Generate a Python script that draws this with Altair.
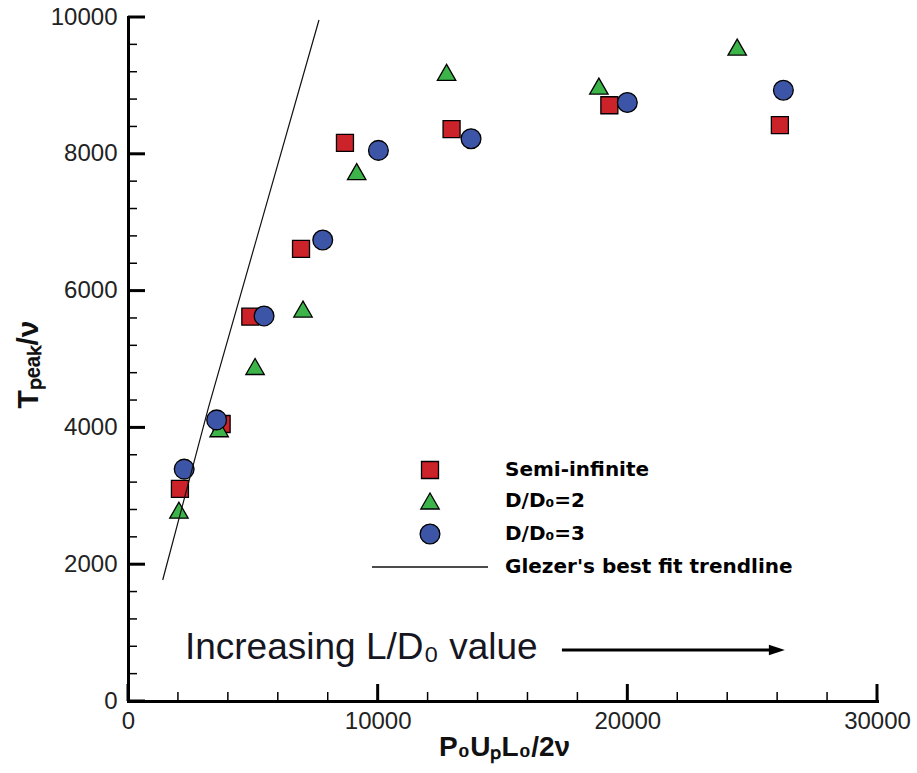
import altair as alt
import pandas as pd

# ---------------- data ----------------
series_names = ["Semi-infinite", "D/D\u2080=2", "D/D\u2080=3", "Glezer's best fit trendline"]
series_colors = ["#cc2229", "#3db449", "#3d55a6", "#000000"]
series_shapes = ["square", "triangle-up", "circle", "M0,0"]
series_sizes = [289, 441, 625, 289]

semi_x = [2080, 3750, 4900, 6930, 8690, 12960, 19280, 26110]
semi_y = [3100, 4050, 5620, 6610, 8160, 8360, 8710, 8420]

dd2_x = [2040, 3650, 5090, 7010, 9160, 12760, 18860, 24400]
dd2_y = [2790, 3980, 4890, 5730, 7740, 9190, 8990, 9560]

dd3_x = [2250, 3550, 5450, 7800, 10030, 13740, 20000, 26250]
dd3_y = [3390, 4110, 5630, 6740, 8050, 8220, 8750, 8930]

trend_x = [1390, 3230, 7649]
trend_y = [1769, 4300, 9956]

x_major = [0, 10000, 20000, 30000]
y_major = [0, 2000, 4000, 6000, 8000, 10000]
x_minor = [v for v in range(0, 30001, 2000) if v % 10000]
y_minor = [v for v in range(0, 10001, 400) if v % 2000]

annot_text = ["Increasing L/D\u2080 value"]
annot_x = [2280]
annot_y = [614]
arrow_y = [746]
arrow_x = [17380]
arrow_x2 = [26000]
arrow_tip_x = [25990]

# ---------------- layout / style ----------------
FONT = "Liberation Sans"
W, H = 749, 684
X_MAX, Y_MAX = 30000, 10000
px_x = X_MAX / W      # data units per pixel, x
px_y = Y_MAX / H      # data units per pixel, y

# legend placement (pixels inside the plot area)
LEG_SYM_X, LEG_LAB_X = 302, 377
LEG_ROWS_Y = [453, 484, 517, 550]
LEG_LINE_X = (244, 360)

# ---------------- tables ----------------
rows = []
for name, xs_, ys_ in [(series_names[0], semi_x, semi_y),
                        (series_names[1], dd2_x, dd2_y),
                        (series_names[2], dd3_x, dd3_y)]:
    for a, b in zip(xs_, ys_):
        rows.append({"x": a, "y": b, "series": name})
df_pts = pd.DataFrame(rows)
df_trend = pd.DataFrame({"x": trend_x, "y": trend_y})
df_annot = pd.DataFrame({"x": annot_x, "y": annot_y, "t": annot_text})
df_arrow = pd.DataFrame({"x": arrow_x, "x2": arrow_x2, "y": arrow_y})
df_head = pd.DataFrame({"x": arrow_tip_x, "y": arrow_y})

df_leg_sym = pd.DataFrame({
    "series": series_names[:3],
    "x": [LEG_SYM_X * px_x] * 3,
    "y": [(H - r) * px_y for r in LEG_ROWS_Y[:3]],
})
df_leg_lab = pd.DataFrame({
    "t": series_names,
    "x": [LEG_LAB_X * px_x] * 4,
    "y": [(H - r) * px_y for r in LEG_ROWS_Y],
})
df_legline = pd.DataFrame({"x": [LEG_LINE_X[0] * px_x], "x2": [LEG_LINE_X[1] * px_x],
                           "y": [(H - LEG_ROWS_Y[3]) * px_y]})

tick_rows = []
for v in x_major:
    tick_rows.append({"x": v, "x2": v, "y": 0, "y2": 17 * px_y, "w": 3})
for v in x_minor:
    tick_rows.append({"x": v, "x2": v, "y": 0, "y2": 9 * px_y, "w": 1.5})
for v in y_major:
    tick_rows.append({"x": 0, "x2": 17 * px_x, "y": v, "y2": v, "w": 3})
for v in y_minor:
    tick_rows.append({"x": 0, "x2": 9 * px_x, "y": v, "y2": v, "w": 1.5})
df_ticks = pd.DataFrame(tick_rows)

xscale = alt.Scale(domain=[0, X_MAX], nice=False, zero=False)
yscale = alt.Scale(domain=[0, Y_MAX], nice=False, zero=False)
color_scale = alt.Scale(domain=series_names, range=series_colors)
shape_scale = alt.Scale(domain=series_names, range=series_shapes)
size_scale = alt.Scale(domain=series_names, range=series_sizes)

main_x_axis = alt.Axis(
    orient="bottom", values=x_major, format="d", ticks=False, grid=False,
    domain=True, domainColor="black", domainWidth=3, domainCap="square",
    labelFont=FONT, labelFontSize=24, labelColor="#222", labelPadding=8, labelFlush=False,
    title="P\u2080U\u209aL\u2080/2\u03bd", titleFont=FONT, titleFontSize=28, titleFontWeight="bold",
    titleColor="#111", titleX=376, titleY=54, titleAlign="center", titleBaseline="alphabetic",
)
main_y_axis = alt.Axis(
    orient="left", values=y_major, format="d", ticks=False, grid=False,
    domain=True, domainColor="black", domainWidth=3, domainCap="square",
    labelFont=FONT, labelFontSize=24, labelColor="#222", labelPadding=11,
    title="T\u209a\u2091\u2090\u2096/\u03bd", titleFont=FONT, titleFontSize=30, titleFontWeight="bold",
    titleColor="#111", titleX=-91, titleY=391, titleAlign="left", titleBaseline="alphabetic", titleAngle=270,
)

X = alt.X("x:Q", scale=xscale)
Y = alt.Y("y:Q", scale=yscale)

points = alt.Chart(df_pts).mark_point(filled=True, stroke="black", strokeWidth=1.3, opacity=1).encode(
    x=alt.X("x:Q", scale=xscale, axis=main_x_axis),
    y=alt.Y("y:Q", scale=yscale, axis=main_y_axis),
    color=alt.Color("series:N", scale=color_scale, legend=None),
    shape=alt.Shape("series:N", scale=shape_scale, legend=None),
    size=alt.Size("series:N", scale=size_scale, legend=None),
)

leg_sym = alt.Chart(df_leg_sym).mark_point(filled=True, stroke="black", strokeWidth=1.3, opacity=1).encode(
    x=X, y=Y,
    color=alt.Color("series:N", scale=color_scale, legend=None),
    shape=alt.Shape("series:N", scale=shape_scale, legend=None),
    size=alt.Size("series:N", scale=size_scale, legend=None),
)

leg_lab = alt.Chart(df_leg_lab).mark_text(
    align="left", baseline="middle", font="DejaVu Sans", fontSize=20, fontWeight="bold", color="black"
).encode(x=X, y=Y, text="t:N")

trend = alt.Chart(df_trend).mark_line(color="#111", strokeWidth=1.2).encode(x=X, y=Y)

legend_line = alt.Chart(df_legline).mark_rule(color="#111", strokeWidth=1.5).encode(
    x=X, x2="x2:Q", y=Y)

arrow = alt.Chart(df_arrow).mark_rule(color="black", strokeWidth=3).encode(x=X, x2="x2:Q", y=Y)

arrow_head = alt.Chart(df_head).mark_point(
    shape="M1,0L-1,-0.65L-1,0.65Z", filled=True, color="black", size=256, opacity=1
).encode(x=X, y=Y)

annot = alt.Chart(df_annot).mark_text(
    align="left", baseline="alphabetic", font=FONT, fontSize=37, color="#161622"
).encode(x=X, y=Y, text="t:N")

ticks = alt.Chart(df_ticks).mark_rule(color="black").encode(
    x=X, x2="x2:Q", y=Y, y2="y2:Q",
    strokeWidth=alt.StrokeWidth("w:Q", scale=None),
)

chart = alt.layer(
    points, trend, legend_line, leg_sym, leg_lab, arrow, arrow_head, annot, ticks
).properties(
    width=W, height=H,
    autosize=alt.AutoSizeParams(type="none"),
    padding={"left": 128, "top": 17, "right": 40, "bottom": 72},
    background="white",
).configure_view(stroke=None)

chart.save("out.html", embed_options={"renderer": "svg", "actions": False})
